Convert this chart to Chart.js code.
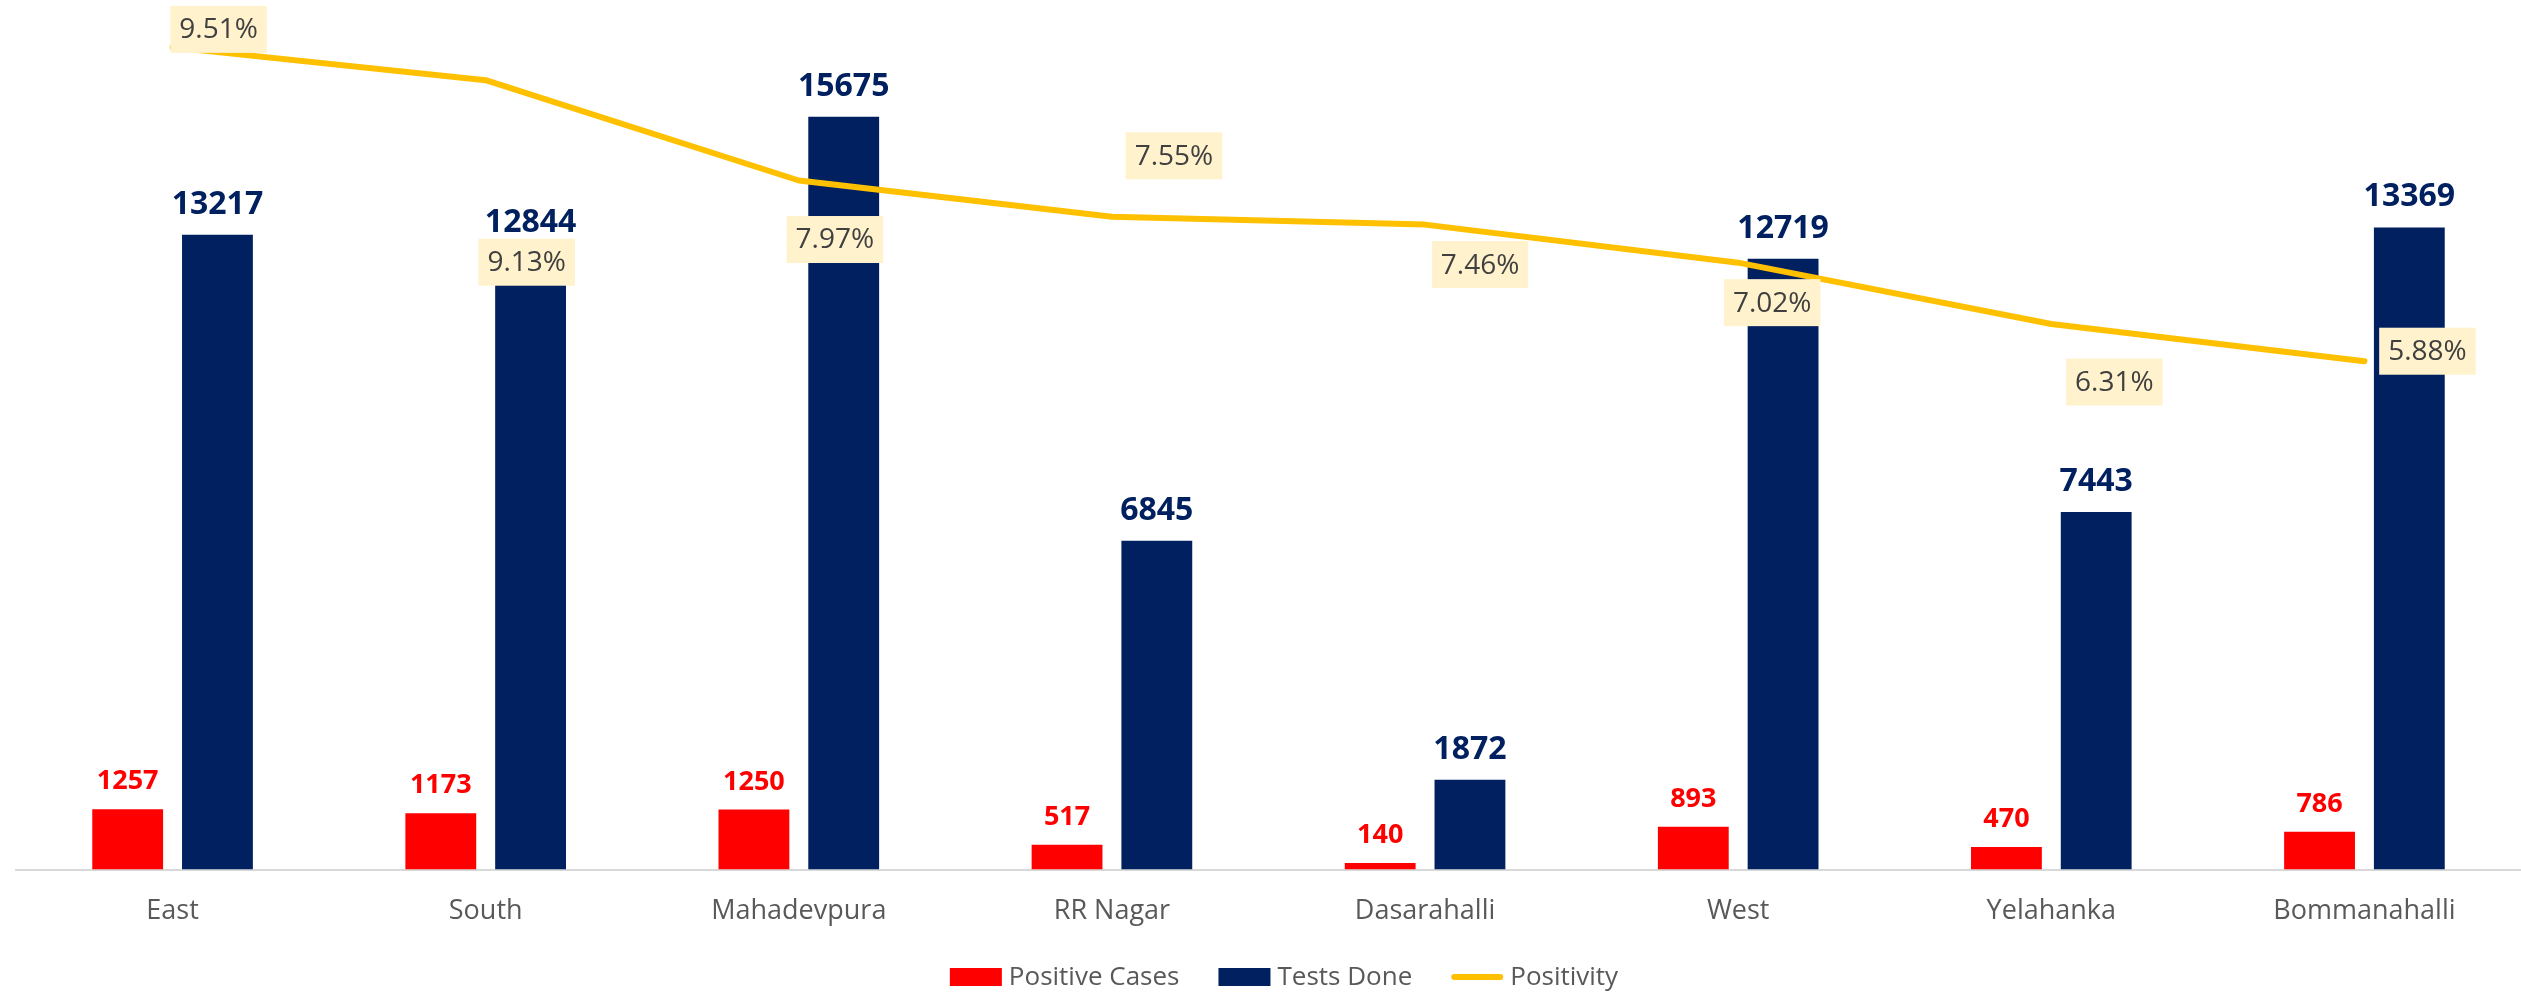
<!DOCTYPE html>
<html lang="en">
<head>
    <meta charset="UTF-8">
    <title>Zone-wise Positivity</title>
    <script src="https://cdn.jsdelivr.net/npm/chart.js"></script>
    <style>
        html, body {
            margin: 0;
            padding: 0;
            background: #ffffff;
        }

        .chart-container {
            width: 2521px;
            height: 994px;
        }
    </style>
</head>
<body>
    <div class="chart-container">
        <canvas id="zone-chart"></canvas>
    </div>

    <script>
        // Data
        const zones = ['East', 'South', 'Mahadevpura', 'RR Nagar', 'Dasarahalli', 'West', 'Yelahanka', 'Bommanahalli'];
        const positiveCases = [1257, 1173, 1250, 517, 140, 893, 470, 786];
        const testsDone = [13217, 12844, 15675, 6845, 1872, 12719, 7443, 13369];
        const positivity = [9.51, 9.13, 7.97, 7.55, 7.46, 7.02, 6.31, 5.88];

        // Where each positivity label box sits relative to its point (px)
        const pctLabelShift = [[46, -18], [41, 182], [36, 59], [62, -61], [55, 40], [34, 40], [63, 58], [63, -10]];

        const FONT = '"Open Sans", "Noto Sans", sans-serif';

        // Value labels on bars + boxed percentage labels on the line
        const labelPlugin = {
            id: 'valueLabels',
            afterDatasetsDraw(chart) {
                const ctx = chart.ctx;
                ctx.save();
                ctx.textAlign = 'center';
                ctx.textBaseline = 'alphabetic';

                // bars
                [[0, 27, 20], [1, 32, 21]].forEach(([di, size, gap]) => {
                    const ds = chart.data.datasets[di];
                    const meta = chart.getDatasetMeta(di);
                    ctx.font = 'bold ' + size + 'px ' + FONT;
                    ctx.fillStyle = ds.backgroundColor;
                    meta.data.forEach((bar, i) => {
                        ctx.fillText(String(ds.data[i]), bar.x, bar.y - gap);
                    });
                });

                // positivity boxes
                const lineMeta = chart.getDatasetMeta(2);
                ctx.font = '28px ' + FONT;
                ctx.textBaseline = 'middle';
                lineMeta.data.forEach((pt, i) => {
                    const txt = positivity[i].toFixed(2) + '%';
                    const w = ctx.measureText(txt).width + 18;
                    const h = 47;
                    const cx = pt.x + pctLabelShift[i][0];
                    const cy = pt.y + pctLabelShift[i][1];
                    ctx.fillStyle = '#FFF2CC';
                    ctx.fillRect(cx - w / 2, cy - h / 2, w, h);
                    ctx.fillStyle = '#404040';
                    ctx.fillText(txt, cx, cy + 1);
                });
                ctx.restore();
            }
        };

        // Legend drawn by hand so spacing matches the original
        const legendPlugin = {
            id: 'bottomLegend',
            afterDraw(chart) {
                const ctx = chart.ctx;
                const y = 977;
                const boxW = 52, boxH = 18, textGap = 7, itemGap = 39;
                ctx.save();
                ctx.font = '26px ' + FONT;
                ctx.textBaseline = 'middle';
                ctx.textAlign = 'left';
                const items = chart.data.datasets.map(ds => ({
                    text: ds.label,
                    color: ds.type === 'line' ? ds.borderColor : ds.backgroundColor,
                    isLine: ds.type === 'line'
                }));
                let total = 0;
                items.forEach((it, i) => {
                    it.w = ctx.measureText(it.text).width;
                    total += boxW + textGap + it.w + (i < items.length - 1 ? itemGap : 0);
                });
                let x = 1284 - total / 2;
                items.forEach(it => {
                    if (it.isLine) {
                        ctx.strokeStyle = it.color;
                        ctx.lineWidth = 6;
                        ctx.lineCap = 'round';
                        ctx.beginPath();
                        ctx.moveTo(x + 3, y);
                        ctx.lineTo(x + boxW - 3, y);
                        ctx.stroke();
                    } else {
                        ctx.fillStyle = it.color;
                        ctx.fillRect(x, y - boxH / 2, boxW, boxH);
                    }
                    x += boxW + textGap;
                    ctx.fillStyle = '#595959';
                    ctx.fillText(it.text, x, y + 1);
                    x += it.w + itemGap;
                });
                ctx.restore();
            }
        };

        const ctx = document.getElementById('zone-chart').getContext('2d');
        const chart = new Chart(ctx, {
            data: {
                labels: zones,
                datasets: [{
                    type: 'bar',
                    label: 'Positive Cases',
                    data: positiveCases,
                    backgroundColor: '#FF0000',
                    yAxisID: 'y',
                    order: 1,
                    categoryPercentage: 0.5734,
                    barPercentage: 0.789
                }, {
                    type: 'bar',
                    label: 'Tests Done',
                    data: testsDone,
                    backgroundColor: '#002060',
                    yAxisID: 'y',
                    order: 1,
                    categoryPercentage: 0.5734,
                    barPercentage: 0.789
                }, {
                    type: 'line',
                    label: 'Positivity',
                    data: positivity,
                    borderColor: '#FFC000',
                    backgroundColor: '#FFC000',
                    borderWidth: 6,
                    borderCapStyle: 'round',
                    borderJoinStyle: 'round',
                    pointRadius: 0,
                    tension: 0,
                    yAxisID: 'y2',
                    order: 0
                }]
            },
            options: {
                responsive: true,
                maintainAspectRatio: false,
                animation: false,
                layout: {
                    padding: { top: 5, left: 16, right: -7, bottom: 48 }
                },
                scales: {
                    x: {
                        grid: { display: false },
                        border: { display: true, color: '#D9D9D9', width: 2 },
                        ticks: {
                            color: '#595959',
                            font: { family: FONT, size: 27 },
                            padding: 18
                        }
                    },
                    y: {
                        display: false,
                        min: 0,
                        max: 18000
                    },
                    y2: {
                        display: false,
                        min: 0,
                        max: 10
                    }
                },
                plugins: {
                    legend: { display: false },
                    tooltip: { enabled: false }
                }
            },
            plugins: [labelPlugin, legendPlugin]
        });
    </script>
</body>
</html>
